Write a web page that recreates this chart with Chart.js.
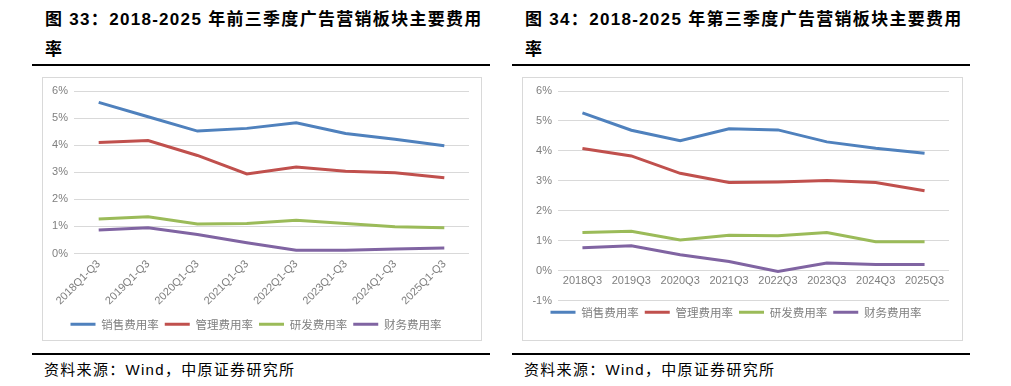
<!DOCTYPE html>
<html>
<head>
<meta charset="utf-8">
<script src="https://cdn.jsdelivr.net/npm/chart.js@4.4.0/dist/chart.umd.min.js"></script>
<style>
    body { margin: 0; background: #fff; width: 1011px; height: 386px; position: relative; overflow: hidden; }
    .title { position: absolute; font-family: "Liberation Sans", "Noto Sans CJK SC", sans-serif; font-weight: bold; font-size: 17px; line-height: 30px; color: #000; letter-spacing: 1.3px; white-space: nowrap; }
    .rule { position: absolute; height: 2px; background: #000; }
    .box { position: absolute; border: 1px solid #d9d9d9; }
    .source { position: absolute; font-family: "Liberation Sans", "Noto Sans CJK SC", sans-serif; font-size: 15px; color: #000; letter-spacing: 1.3px; }
</style>
</head>
<body>
<div class="title" style="left:45px; top:5px;">图 33：2018-2025 年前三季度广告营销板块主要费用<br>率</div>
<div class="rule" style="left:32px; top:64px; width:458px;"></div>
<div class="box" style="left:42px; top:77px; width:438px; height:262px;">
    <canvas id="chart1" width="438" height="262"></canvas>
</div>
<div class="rule" style="left:32px; top:353px; width:458px;"></div>
<div class="source" style="left:44px; top:358px;">资料来源：Wind，中原证券研究所</div>

<div class="title" style="left:525px; top:5px;">图 34：2018-2025 年第三季度广告营销板块主要费用<br>率</div>
<div class="rule" style="left:512px; top:64px; width:458px;"></div>
<div class="box" style="left:522px; top:77px; width:439px; height:262px;">
    <canvas id="chart2" width="439" height="262"></canvas>
</div>
<div class="rule" style="left:512px; top:353px; width:458px;"></div>
<div class="source" style="left:524px; top:358px;">资料来源：Wind，中原证券研究所</div>

<script>
const seriesNames = ['销售费用率', '管理费用率', '研发费用率', '财务费用率'];
const seriesColors = ['#4f81bd', '#c0504d', '#9bbb59', '#8064a2'];

// 前三季度
const labelsYtd = ['2018Q1-Q3', '2019Q1-Q3', '2020Q1-Q3', '2021Q1-Q3', '2022Q1-Q3', '2023Q1-Q3', '2024Q1-Q3', '2025Q1-Q3'];
const salesYtd = [5.58, 5.05, 4.52, 4.62, 4.83, 4.43, 4.22, 3.98];
const adminYtd = [4.10, 4.17, 3.62, 2.94, 3.19, 3.04, 2.98, 2.80];
const rdYtd = [1.27, 1.36, 1.09, 1.11, 1.23, 1.11, 0.99, 0.95];
const financeYtd = [0.87, 0.95, 0.70, 0.40, 0.12, 0.12, 0.17, 0.20];

// 第三季度
const labelsQ3 = ['2018Q3', '2019Q3', '2020Q3', '2021Q3', '2022Q3', '2023Q3', '2024Q3', '2025Q3'];
const salesQ3 = [5.27, 4.69, 4.34, 4.74, 4.70, 4.30, 4.09, 3.92];
const adminQ3 = [4.08, 3.83, 3.25, 2.94, 2.96, 3.01, 2.94, 2.67];
const rdQ3 = [1.27, 1.31, 1.02, 1.18, 1.16, 1.27, 0.96, 0.96];
const financeQ3 = [0.76, 0.83, 0.53, 0.30, -0.03, 0.25, 0.20, 0.20];

const gray = '#7f7f7f';
const gridColor = '#d9d9d9';

function makeDatasets(lists) {
    return lists.map((data, i) => ({
        label: seriesNames[i],
        data: data,
        borderColor: seriesColors[i],
        backgroundColor: seriesColors[i],
        borderWidth: 3,
        pointRadius: 0,
        tension: 0
    }));
}

function makeChart(id, labels, lists, yMin, opts) {
    const ctx = document.getElementById(id).getContext('2d');
    return new Chart(ctx, {
        type: 'line',
        data: { labels: labels, datasets: makeDatasets(lists) },
        options: {
            responsive: false,
            animation: false,
            layout: { padding: opts.padding },
            plugins: {
                legend: {
                    position: 'bottom',
                    labels: {
                        usePointStyle: true,
                        pointStyle: 'line',
                        pointStyleWidth: 25,
                        color: gray,
                        font: { family: '"Noto Sans CJK SC", sans-serif', size: 11.5 },
                        padding: 6
                    }
                },
                tooltip: { enabled: false }
            },
            scales: {
                x: Object.assign({
                    offset: true,
                    grid: { display: false, drawTicks: false },
                    border: { display: false },
                    ticks: {
                        color: gray,
                        font: { family: '"Liberation Sans", sans-serif', size: 11 },
                        minRotation: opts.rotation,
                        maxRotation: opts.rotation,
                        autoSkip: false,
                        padding: 4
                    },
                    afterFit: function(scale) { if (opts.xHeight) scale.height = opts.xHeight; }
                }, opts.xExtra || {}),
                y: {
                    min: yMin,
                    max: 6,
                    grid: { color: gridColor, lineWidth: 1, drawTicks: false },
                    border: { display: false },
                    ticks: {
                        stepSize: 1,
                        color: gray,
                        padding: 6,
                        font: { family: '"Liberation Sans", sans-serif', size: 11 },
                        callback: v => v + '%'
                    },
                    afterFit: function(scale) { scale.width = opts.yWidth; }
                }
            }
        }
    });
}

makeChart('chart1', labelsYtd, [salesYtd, adminYtd, rdYtd, financeYtd], 0, {
    padding: { left: 0, right: 12, top: 13, bottom: 0 },
    rotation: 45,
    xHeight: 59,
    yWidth: 31
});

makeChart('chart2', labelsQ3, [salesQ3, adminQ3, rdQ3, financeQ3], -1, {
    padding: { left: 0, right: 13, top: 13, bottom: 12 },
    rotation: 0,
    yWidth: 35,
    xExtra: { position: { y: 0 } }
});
</script>
</body>
</html>
